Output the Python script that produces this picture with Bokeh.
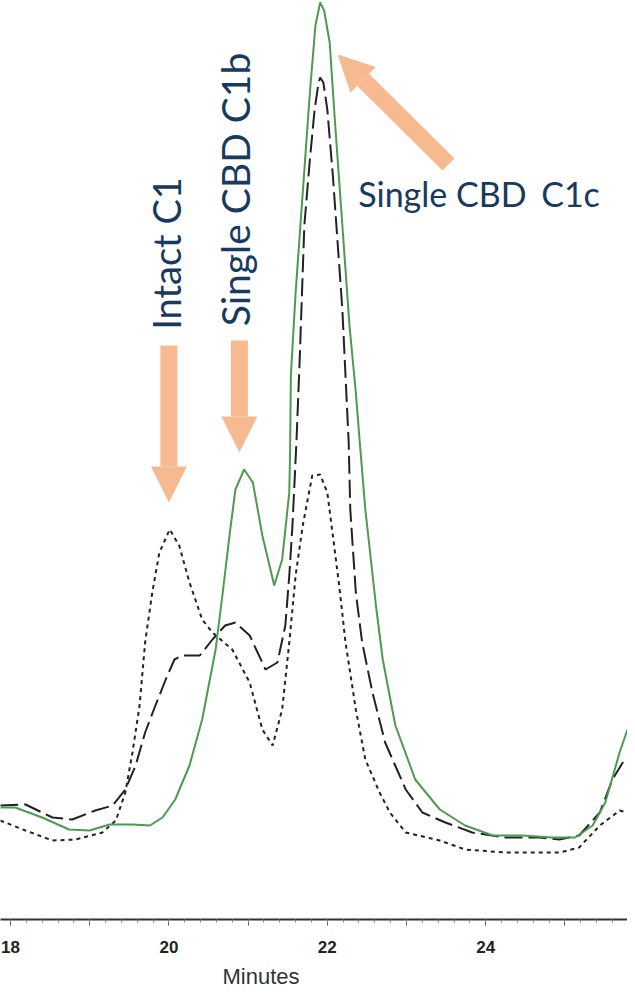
import math
from bokeh.plotting import figure
from bokeh.models import Range1d, FixedTicker, Arrow, NormalHead, Label, Title
from bokeh.embed import file_html
from bokeh.resources import INLINE

# ---- data (retention time in minutes, absorbance in arbitrary units) ----
green_x = [17.87,18.06,18.40,18.74,19.00,19.25,19.54,19.76,19.92,20.08,
           20.26,20.42,20.59,20.68,20.77,20.84,20.95,21.06,21.18,21.33,
           21.43,21.52,21.53,21.54,21.60,21.69,21.78,21.85,21.91,21.96,22.03,
           22.10,22.19,22.28,22.36,22.41,22.48,22.62,22.70,22.82,22.86,
           23.11,23.42,23.74,24.09,24.46,24.84,25.13,25.35,25.51,25.69,25.79]
green_y = [11.6,11.6,10.6,9.4,9.3,9.9,9.9,9.8,10.6,12.4,
           15.8,20.4,27.4,33.1,39.1,43.4,45.4,44.1,38.8,33.8,
           36.4,43.1,47.1,54.8,63.1,73.1,83.1,89.8,92.1,91.3,88.1,
           79.8,69.8,59.8,53.1,48.1,41.4,31.4,26.4,21.4,19.8,
           14.4,11.4,9.8,8.8,8.8,8.6,8.6,9.8,12.1,17.1,19.4]

dash_x = [17.87,18.19,18.53,18.78,19.07,19.29,19.45,19.58,19.70,19.83,
          19.96,20.07,20.17,20.39,20.55,20.71,20.84,21.02,21.22,21.37,
          21.47,21.52,21.56,21.61,21.65,21.71,21.78,21.84,21.89,21.91,
          21.95,22.00,22.07,22.13,22.19,22.27,22.29,22.36,22.44,22.57,
          22.73,22.99,23.20,23.49,23.83,24.25,24.68,24.93,25.18,25.44,
          25.60,25.73,25.79]
dash_y = [11.8,11.9,10.6,10.4,11.3,11.8,13.4,15.8,19.1,21.8,
          24.4,26.4,26.8,26.8,28.4,29.8,30.1,28.8,25.4,26.1,
          29.8,34.8,39.8,48.1,56.1,69.8,76.4,81.4,84.1,84.6,
          84.1,81.4,74.8,68.1,61.4,48.1,41.4,33.1,28.1,23.1,
          18.1,13.4,11.1,10.1,9.1,8.6,8.6,8.4,8.8,11.1,
          14.4,16.1,15.6]

dot_x = [17.87,18.19,18.53,18.82,19.16,19.33,19.45,19.54,19.63,19.70,
         19.79,19.88,20.01,20.13,20.26,20.42,20.55,20.80,21.02,21.18,
         21.31,21.43,21.52,21.60,21.69,21.81,21.91,22.00,22.07,22.15,
         22.23,22.36,22.48,22.66,22.79,22.99,23.42,23.74,24.25,24.68,
         24.93,25.18,25.44,25.69,25.79]
dot_y = [10.3,9.3,8.3,8.4,9.1,10.3,13.1,17.1,21.8,28.1,
         33.1,37.1,39.4,37.8,34.1,30.4,29.1,27.4,24.1,19.4,
         17.8,21.4,28.1,34.8,39.8,44.8,44.9,43.1,38.8,33.8,
         28.1,21.4,16.4,13.1,11.1,9.1,8.3,7.4,7.1,7.1,
         7.1,7.6,9.8,11.3,11.1]

major_ticks = [18, 19, 20, 21, 22, 23, 24, 25]
tick_labels = {18: "18", 19: "", 20: "20", 21: "", 22: "22", 23: "", 24: "24", 25: ""}
minor_ticks = [round(17.8 + 0.2 * i, 1) for i in range(41)]

ann_intact = "Intact C1"
ann_c1b = "Single CBD C1b"
ann_c1c_a = "Single CBD"
ann_c1c_b = "C1c"
x_label = "Minutes"

# ---- figure ----
p = figure(width=627, height=995, output_backend="svg", toolbar_location=None,
           x_range=Range1d(17.874, 25.79), y_range=Range1d(0.4, 92.3),
           y_axis_location=None, min_border_left=0, min_border_right=0,
           min_border_top=0, min_border_bottom=76)
p.outline_line_color = None
p.grid.visible = False
p.background_fill_color = "white"
p.border_fill_color = "white"

xa = p.xaxis[0]
xa.ticker = FixedTicker(ticks=major_ticks, minor_ticks=minor_ticks)
xa.major_label_overrides = tick_labels
xa.axis_line_color = "#333333"
xa.axis_line_width = 2
xa.major_tick_line_color = "#555555"
xa.major_tick_out = 6
xa.major_tick_in = 0
xa.minor_tick_line_color = "#888888"
xa.minor_tick_out = 3
xa.minor_tick_in = 0
xa.major_label_text_font = "Liberation Sans"
xa.major_label_text_font_style = "bold"
xa.major_label_text_font_size = "17px"
xa.major_label_text_color = "#222222"
xa.major_label_standoff = 15

p.add_layout(Title(text=x_label, align="left", offset=222, standoff=13,
                   text_font="Liberation Sans", text_font_size="22px",
                   text_font_style="normal", text_color="#333333"), "below")

p.line(dot_x, dot_y, line_color="#222222", line_width=2, line_dash="4 4")
p.line(dash_x, dash_y, line_color="#222222", line_width=2, line_dash="18 6")
p.line(green_x, green_y, line_color="#4e9a4e", line_width=2)

ac = "#f7b990"
for xs, ys, xe, ye in [(20.0, 57.8, 20.0, 42.1), (20.89, 58.3, 20.89, 47.1), (23.53, 75.9, 22.13, 86.9)]:
    p.add_layout(Arrow(end=NormalHead(size=36, fill_color=ac, line_color=None),
                       x_start=xs, y_start=ys, x_end=xe, y_end=ye,
                       line_color=ac, line_width=17))

navy = "#173a5e"
p.add_layout(Label(x=19.96, y=67.0, text=ann_intact, angle=math.pi / 2,
                   text_font="Lato", text_font_size="38px", text_color=navy,
                   text_align="center", text_baseline="middle"))
p.add_layout(Label(x=20.83, y=73.4, text=ann_c1b, angle=math.pi / 2,
                   text_font="Lato", text_font_size="39px", text_color=navy,
                   text_align="center", text_baseline="middle"))
p.add_layout(Label(x=22.39, y=73.0, text=ann_c1c_a,
                   text_font="Lato", text_font_size="34px", text_color=navy,
                   text_align="left", text_baseline="alphabetic"))
p.add_layout(Label(x=24.70, y=73.0, text=ann_c1c_b,
                   text_font="Lato", text_font_size="34px", text_color=navy,
                   text_align="left", text_baseline="alphabetic"))

open("out.html", "w").write(file_html(p, INLINE))
